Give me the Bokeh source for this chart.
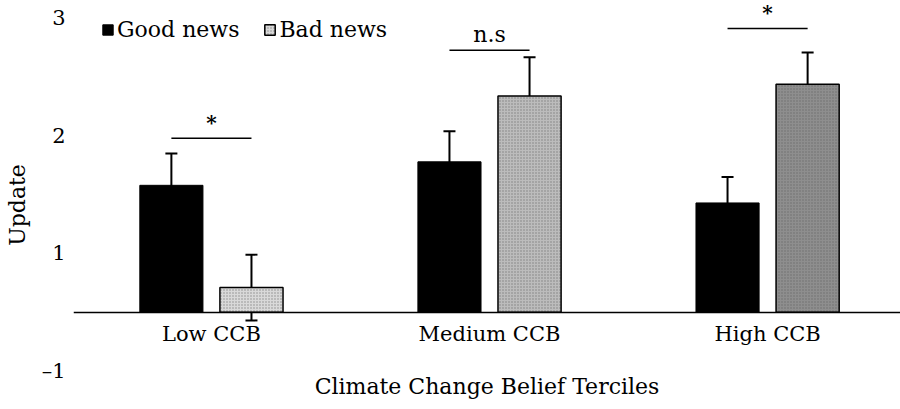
from bokeh.plotting import figure
from bokeh.models import (ColumnDataSource, Range1d, FixedTicker, Whisker, TeeHead,
                          Legend, LegendItem)
from bokeh.transform import dodge
from bokeh.embed import file_html
from bokeh.resources import INLINE
from bokeh.core.properties import value

# ---- data ----
categories = ["Low CCB", "Medium CCB", "High CCB"]
series = ["Good news", "Bad news"]
good = [1.58, 1.78, 1.43]
good_err = [0.27, 0.26, 0.22]
bad = [0.71, 2.34, 2.44]
bad_err = [0.28, 0.33, 0.27]
baseline = 0.5
sig_y = [1.98, 2.73, 2.915]
sig_labels = ["*", "n.s", "*"]
y_ticks = [0, 1, 2, 3]
y_tick_labels = ["\u20131", "1", "2", "3"]

# ---- styles ----
FONT = "DejaVu Serif"
bad_fill = ["#d9d9d9", "#bcbcbc", "#8e8e8e"]
sig_font = ["20px", "22px", "20px"]
sig_style = ["bold", "normal", "bold"]
OFF = 0.144
W = 0.227

idx = list(range(len(categories)))
src = ColumnDataSource(dict(
    x=idx, good=good, bad=bad,
    good_up=[g + e for g, e in zip(good, good_err)],
    good_lo=[g - e for g, e in zip(good, good_err)],
    bad_up=[b + e for b, e in zip(bad, bad_err)],
    bad_lo=[b - e for b, e in zip(bad, bad_err)],
    bad_fill=bad_fill, sig_y=sig_y, sig_labels=sig_labels,
    sig_font=sig_font, sig_style=sig_style,
))

p = figure(width=900, height=409, output_backend="svg", toolbar_location=None,
           x_range=Range1d(-0.496, 2.478), y_range=Range1d(-0.328, 3.153),
           min_border_left=73, min_border_right=0, min_border_top=0, min_border_bottom=0)
p.outline_line_color = None
p.grid.visible = False
p.background_fill_color = "white"

good_r = p.vbar(x=dodge("x", -OFF), top="good", bottom=baseline, width=W, source=src,
                fill_color="black", line_color="black", line_width=1)
bad_r = p.vbar(x=dodge("x", OFF), top="bad", bottom=baseline, width=W, source=src,
               fill_color="bad_fill", line_color="black", line_width=1.5,
               hatch_pattern="dot", hatch_color="#555555", hatch_alpha=0.6, hatch_scale=3)

for up, lo, off in (("good_up", "good_lo", -OFF), ("bad_up", "bad_lo", OFF)):
    w = Whisker(base=dodge("x", off), upper=up, lower=lo, source=src,
                line_color="black", line_width=2,
                upper_head=TeeHead(size=12, line_width=2, line_color="black"),
                lower_head=TeeHead(size=12, line_width=2, line_color="black"))
    p.add_layout(w)

p.segment(x0=dodge("x", -OFF), y0="sig_y", x1=dodge("x", OFF), y1="sig_y", source=src,
          line_color="black", line_width=1.5)
p.text(x="x", y="sig_y", text="sig_labels", source=src, text_align="center",
       text_baseline="bottom", y_offset=-3, text_font=value(FONT),
       text_font_size="sig_font", text_color="black", text_font_style="sig_style")

# axes
p.xaxis.fixed_location = baseline
p.xaxis.ticker = FixedTicker(ticks=idx)
p.xaxis.major_label_overrides = {i: c for i, c in zip(idx, categories)}
p.xaxis.axis_line_color = "black"
p.xaxis.axis_line_width = 1.5
p.xaxis.major_tick_line_color = None
p.xaxis.minor_tick_line_color = None
p.xaxis.major_tick_out = 0
p.xaxis.major_tick_in = 0
p.xaxis.major_label_text_font = FONT
p.xaxis.major_label_text_font_size = "21px"
p.xaxis.major_label_text_color = "black"
p.xaxis.major_label_standoff = 10
p.xaxis.axis_label = "Climate Change Belief Terciles"
p.xaxis.axis_label_text_font = FONT
p.xaxis.axis_label_text_font_size = "22px"
p.xaxis.axis_label_text_font_style = "normal"
p.xaxis.axis_label_text_color = "black"
p.xaxis.axis_label_standoff = 24

p.yaxis.ticker = FixedTicker(ticks=y_ticks)
p.yaxis.major_label_overrides = {t: l for t, l in zip(y_ticks, y_tick_labels)}
p.yaxis.axis_line_color = None
p.yaxis.major_tick_line_color = None
p.yaxis.minor_tick_line_color = None
p.yaxis.major_tick_out = 0
p.yaxis.major_tick_in = 0
p.yaxis.major_label_text_font = FONT
p.yaxis.major_label_text_font_size = "21px"
p.yaxis.major_label_text_color = "black"
p.yaxis.major_label_standoff = 8
p.yaxis.axis_label = "Update"
p.yaxis.axis_label_text_font = FONT
p.yaxis.axis_label_text_font_size = "22px"
p.yaxis.axis_label_text_font_style = "normal"
p.yaxis.axis_label_text_color = "black"
p.yaxis.axis_label_standoff = 9

legend = Legend(items=[LegendItem(label=series[0], renderers=[good_r], index=0),
                       LegendItem(label=series[1], renderers=[bad_r], index=0)],
                orientation="horizontal", location=(28, 367),
                background_fill_alpha=0, border_line_color=None,
                padding=0, margin=0, spacing=24, label_standoff=3,
                glyph_width=13, glyph_height=13,
                label_text_font=FONT, label_text_font_size="22px",
                label_text_color="black")
p.add_layout(legend)

open("out.html", "w").write(file_html(p, INLINE))
